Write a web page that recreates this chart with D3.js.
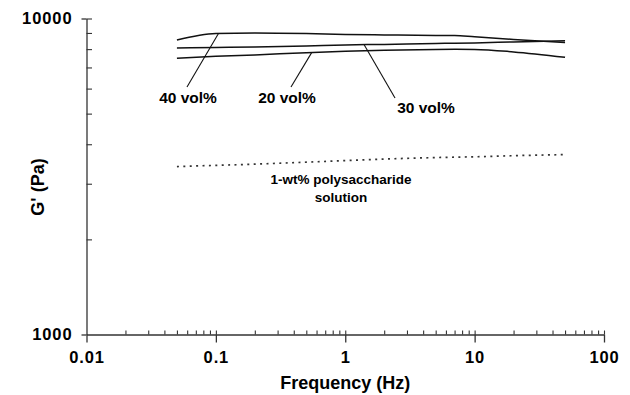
<!DOCTYPE html>
<html>
<head>
<meta charset="utf-8">
<script src="https://cdn.jsdelivr.net/npm/d3@7"></script>
<style>
  html, body { margin: 0; padding: 0; background: #fff; }
  svg { display: block; }
  text { font-family: "Liberation Sans", Arial, Helvetica, sans-serif; font-weight: bold; fill: #000; }
</style>
</head>
<body>
<svg id="chart" width="630" height="395"></svg>
<script>
// ---- data ----
const frequencies = [0.05, 0.1, 0.2, 0.5, 1, 2, 5, 7, 10, 20, 50];
const g40 = [8550, 8970, 9000, 8960, 8900, 8870, 8840, 8840, 8750, 8585, 8400];
const g30 = [8070, 8100, 8130, 8190, 8250, 8280, 8340, 8350, 8370, 8430, 8500];
const g20 = [7480, 7590, 7670, 7790, 7870, 7930, 7984, 7990, 7984, 7840, 7534];
const gSolution = [3400, 3430, 3460, 3510, 3550, 3590, 3630, 3640, 3650, 3680, 3710];
const xTickLabels = [0.01, 0.1, 1, 10, 100];
const yTickLabels = [1000, 10000];
const seriesNames = ["40 vol%", "30 vol%", "20 vol%", "1-wt% polysaccharide solution"];

// ---- layout ----
const svg = d3.select("#chart");
const plotLeft = 86.5, plotRight = 604, plotTop = 18.5, plotBottom = 334.5;

const x = d3.scaleLog().domain([0.01, 100]).range([plotLeft, plotRight]);
const y = d3.scaleLog().domain([1000, 10000]).range([plotBottom, plotTop]);

// minor tick values
const xMinor = [];
for (let d = 0.01; d < 100; d *= 10) for (let k = 2; k <= 9; k++) xMinor.push(+(d * k).toPrecision(3));
const yMinor = [];
for (let k = 2; k <= 9; k++) yMinor.push(1000 * k);

const axisColor = "#333";

// X axis: outward major ticks with labels
const gx = svg.append("g").attr("transform", `translate(0,${plotBottom})`)
  .call(d3.axisBottom(x).tickValues(xTickLabels).tickSizeInner(8).tickSizeOuter(0)
    .tickPadding(9).tickFormat(d => String(d)));
gx.select(".domain").attr("stroke", axisColor).attr("stroke-width", 1.3);
gx.selectAll(".tick line").attr("stroke", axisColor).attr("stroke-width", 1.3);
gx.selectAll(".tick text").attr("font-size", 16.5).attr("letter-spacing", 0.9)
  .style("font-family", '"Liberation Sans", Arial, sans-serif').style("font-weight", "bold").attr("fill", "#000");

// X axis: inward ticks (minor + major)
const gxi = svg.append("g").attr("transform", `translate(0,${plotBottom})`)
  .call(d3.axisBottom(x).tickValues(xMinor.concat([0.1, 1, 10, 100])).tickSizeInner(-4).tickSizeOuter(0).tickFormat(""));
gxi.select(".domain").remove();
gxi.selectAll(".tick line").attr("stroke", axisColor).attr("stroke-width", 1.1);

// Y axis: outward major ticks with labels
const gy = svg.append("g").attr("transform", `translate(${plotLeft},0)`)
  .call(d3.axisLeft(y).tickValues(yTickLabels).tickSizeInner(5).tickSizeOuter(0)
    .tickPadding(9).tickFormat(d => String(d)));
gy.select(".domain").attr("stroke", axisColor).attr("stroke-width", 1.3);
gy.selectAll(".tick line").attr("stroke", axisColor).attr("stroke-width", 1.3);
gy.selectAll(".tick text").attr("font-size", 16.5).attr("letter-spacing", 0.9)
  .style("font-family", '"Liberation Sans", Arial, sans-serif').style("font-weight", "bold").attr("fill", "#000");

// Y axis: inward ticks
const gyi = svg.append("g").attr("transform", `translate(${plotLeft},0)`)
  .call(d3.axisLeft(y).tickValues(yMinor.concat([10000])).tickSizeInner(-5.5).tickSizeOuter(0).tickFormat(""));
gyi.select(".domain").remove();
gyi.selectAll(".tick line").attr("stroke", axisColor).attr("stroke-width", 1.1);

// Axis titles
svg.append("text").attr("x", x(1)).attr("y", 389).attr("text-anchor", "middle")
  .attr("font-size", 18).text("Frequency (Hz)");
svg.append("text").attr("transform", `translate(44,187) rotate(-90)`)
  .attr("text-anchor", "middle").attr("font-size", 18).text("G' (Pa)");

// ---- curves ----
const line = d3.line().x(d => x(d[0])).y(d => y(d[1])).curve(d3.curveMonotoneX);
const pairs = arr => frequencies.map((f, i) => [f, arr[i]]);

[g40, g30, g20].forEach(s => {
  svg.append("path").datum(pairs(s)).attr("d", line)
    .attr("fill", "none").attr("stroke", "#111").attr("stroke-width", 1.5);
});
svg.append("path").datum(pairs(gSolution)).attr("d", line)
  .attr("fill", "none").attr("stroke", "#333").attr("stroke-width", 1.7)
  .attr("stroke-dasharray", "2,4.4");

// ---- labels with leader lines ----
function leader(fromX, fromY, f, v) {
  svg.append("line").attr("x1", fromX).attr("y1", fromY).attr("x2", x(f)).attr("y2", y(v))
    .attr("stroke", "#111").attr("stroke-width", 1.1);
}
leader(187, 87, 0.105, 8975);
leader(291, 87, 0.55, 7800);
leader(395, 98, 1.4, 8265);

const labelFont = 15.5;
svg.append("text").attr("x", 188).attr("y", 103).attr("text-anchor", "middle")
  .attr("font-size", labelFont).text(seriesNames[0]);
svg.append("text").attr("x", 287).attr("y", 103).attr("text-anchor", "middle")
  .attr("font-size", labelFont).text(seriesNames[2]);
svg.append("text").attr("x", 426).attr("y", 113).attr("text-anchor", "middle")
  .attr("font-size", labelFont).text(seriesNames[1]);

const solParts = ["1-wt% polysaccharide", "solution"];
svg.append("text").attr("x", 341).attr("y", 184).attr("text-anchor", "middle")
  .attr("font-size", 13.5).text(solParts[0]);
svg.append("text").attr("x", 341).attr("y", 202).attr("text-anchor", "middle")
  .attr("font-size", 13.5).text(solParts[1]);
</script>
</body>
</html>
